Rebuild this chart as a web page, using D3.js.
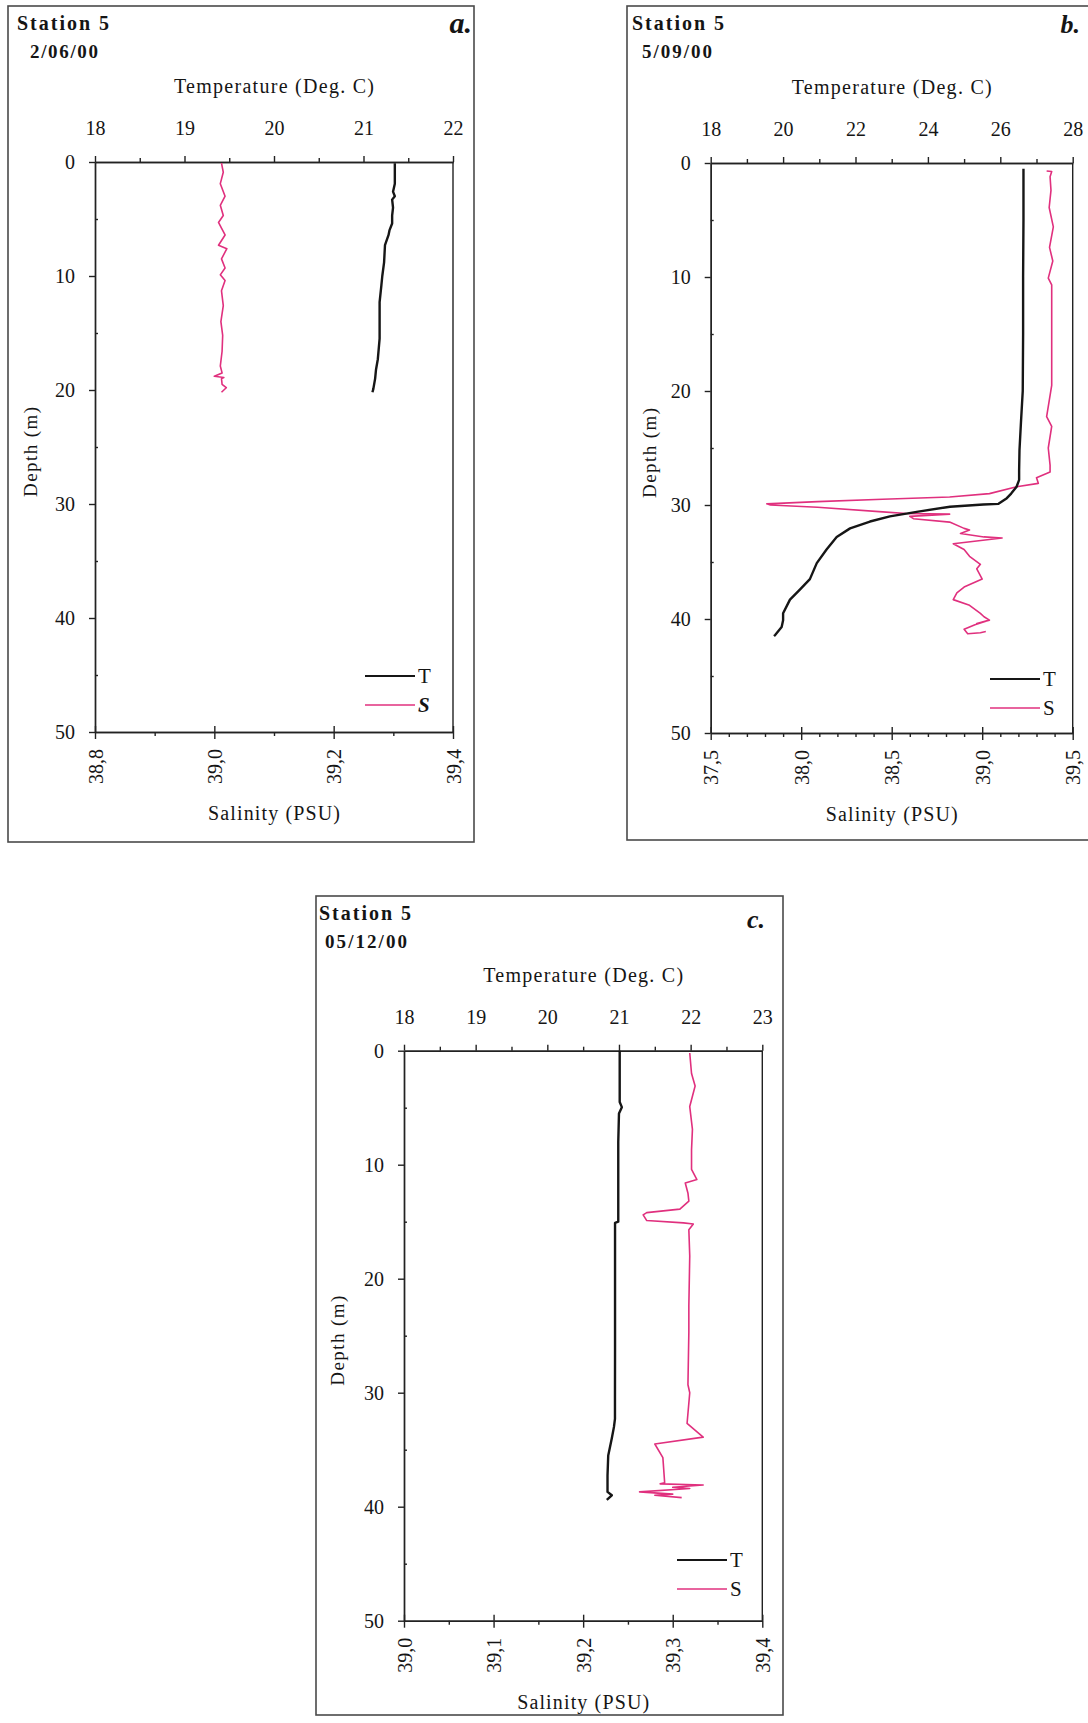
<!DOCTYPE html>
<html><head><meta charset="utf-8">
<script src="https://cdn.jsdelivr.net/npm/d3@7"></script>
<style>
body{margin:0;background:#fff}
svg{display:block}
text{font-family:"Liberation Serif","Times New Roman",Times,serif;fill:#151515}
</style>
</head><body>
<svg id="chart" width="1088" height="1723"></svg>
<script>
// ---------- shared axis values ----------
const depthTicks = [0, 10, 20, 30, 40, 50];
const depthMinor = [5, 15, 25, 35, 45];

// ---------- panel a : Station 5, 2/06/00 ----------
const tempTicksA = [18, 19, 20, 21, 22];
const tempMinorA = [18.5, 19.5, 20.5, 21.5];
const salTicksA = [38.8, 39.0, 39.2, 39.4];
const salMinorA = [38.9, 39.1, 39.3];
const depthA_T = [0.1, 1.0, 1.9, 2.6, 3.0, 3.3, 4.0, 4.7, 5.4, 6.0, 6.4, 7.3, 8.8, 10.0, 10.8, 12.3, 14.0, 15.5, 17.3, 18.2, 19.0, 19.9, 20.2];
const tempA = [21.35, 21.35, 21.35, 21.33, 21.35, 21.32, 21.33, 21.32, 21.32, 21.29, 21.28, 21.24, 21.23, 21.21, 21.20, 21.18, 21.18, 21.18, 21.16, 21.14, 21.13, 21.11, 21.10];
const depthA_S = [0.1, 0.9, 1.9, 3.0, 3.8, 4.7, 5.3, 5.8, 6.4, 7.3, 7.6, 8.5, 9.3, 9.9, 10.4, 11.3, 12.6, 14.0, 15.2, 16.6, 17.9, 18.5, 18.8, 18.9, 19.0, 19.5, 19.8, 20.2];
const salA = [39.012, 39.015, 39.010, 39.018, 39.010, 39.015, 39.007, 39.012, 39.018, 39.007, 39.021, 39.012, 39.018, 39.010, 39.018, 39.012, 39.015, 39.011, 39.014, 39.013, 39.010, 39.013, 39.000, 39.016, 39.012, 39.013, 39.020, 39.012];

// ---------- panel b : Station 5, 5/09/00 ----------
const tempTicksB = [18, 20, 22, 24, 26, 28];
const tempMinorB = [19, 21, 23, 25, 27];
const salTicksB = [37.5, 38.0, 38.5, 39.0, 39.5];
const salMinorB = [37.6, 37.7, 37.8, 37.9, 38.1, 38.2, 38.3, 38.4, 38.6, 38.7, 38.8, 38.9, 39.1, 39.2, 39.3, 39.4];
const depthB_T = [0.5, 5, 10, 15, 20, 22.8, 25.2, 27.0, 27.8, 28.4, 29.0, 29.4, 29.9, 29.95, 30.15, 30.6, 31.0, 31.45, 32.05, 32.8, 33.9, 35.1, 36.5, 37.4, 38.3, 39.5, 40.1, 40.7, 41.4, 41.5];
const tempB = [26.64, 26.64, 26.63, 26.63, 26.62, 26.57, 26.53, 26.52, 26.52, 26.45, 26.30, 26.18, 25.95, 25.53, 24.61, 23.69, 22.95, 22.40, 21.85, 21.48, 21.20, 20.93, 20.74, 20.47, 20.19, 20.00, 20.00, 19.96, 19.78, 19.75];
const depthB_S = [0.7, 0.75, 1.2, 2.4, 3.9, 5.6, 7.4, 8.6, 10.1, 10.7, 15.0, 19.5, 22.25, 23.1, 25.0, 26.5, 27.1, 27.6, 28.1, 28.4, 29.0, 29.3, 29.5, 29.7, 29.9, 30.0, 30.2, 30.6, 30.75, 30.8, 31.0, 31.2, 31.5, 32.05, 32.2, 32.5, 32.8, 32.9, 33.4, 33.9, 34.5, 35.2, 35.6, 36.5, 37.2, 37.7, 38.3, 38.8, 39.5, 39.8, 40.1, 40.4, 40.2, 40.5, 40.9, 41.3, 41.2, 41.1];
const salB = [39.356, 39.384, 39.375, 39.380, 39.370, 39.393, 39.372, 39.390, 39.365, 39.384, 39.384, 39.384, 39.356, 39.384, 39.365, 39.375, 39.375, 39.300, 39.310, 39.190, 39.040, 38.820, 38.450, 38.090, 37.810, 37.830, 38.090, 38.450, 38.580, 38.820, 38.600, 38.620, 38.820, 38.900, 38.930, 38.880, 39.010, 39.110, 38.840, 38.900, 38.930, 38.990, 38.970, 39.000, 38.900, 38.860, 38.840, 38.930, 38.990, 39.010, 39.040, 38.970, 39.020, 38.960, 38.900, 38.920, 38.990, 39.020];

// ---------- panel c : Station 5, 05/12/00 ----------
const tempTicksC = [18, 19, 20, 21, 22, 23];
const tempMinorC = [18.5, 19.5, 20.5, 21.5, 22.5];
const salTicksC = [39.0, 39.1, 39.2, 39.3, 39.4];
const salMinorC = [39.05, 39.15, 39.25, 39.35];
const depthC_T = [0, 4.5, 4.95, 5.5, 8, 12, 15.0, 15.1, 18, 22, 26, 30.5, 32.3, 33.0, 34.0, 35.5, 37.25, 38.7, 39.0, 39.4];
const tempC = [21.01, 21.01, 21.04, 21.00, 20.99, 20.99, 20.99, 20.945, 20.945, 20.945, 20.945, 20.944, 20.944, 20.93, 20.90, 20.85, 20.84, 20.84, 20.90, 20.83];
const depthC_S = [0.2, 2.0, 3.1, 4.9, 6.9, 8.7, 10.4, 11.3, 11.6, 12.5, 13.2, 13.9, 14.2, 14.4, 14.9, 15.1, 15.2, 15.7, 18.0, 22.4, 24.7, 29.3, 30.0, 32.7, 33.9, 34.5, 35.7, 37.9, 38.0, 38.1, 38.3, 38.4, 38.7, 38.9, 39.0, 39.2];
const salC = [39.319, 39.321, 39.325, 39.319, 39.322, 39.321, 39.321, 39.327, 39.314, 39.317, 39.318, 39.308, 39.271, 39.267, 39.271, 39.312, 39.323, 39.318, 39.319, 39.318, 39.318, 39.317, 39.319, 39.316, 39.334, 39.280, 39.289, 39.291, 39.286, 39.334, 39.300, 39.319, 39.263, 39.300, 39.280, 39.310];

const titles = ["Station 5", "Station 5", "Station 5"];
const dates = ["2/06/00", "5/09/00", "05/12/00"];
const letters = ["a.", "b.", "c."];

// ---------- layout (positions only) ----------
const panels = [
  {box:[8,6,474,842], l:95, r:453, t:162, b:732,
   tempDomain:[18,22], salDomain:[38.8,39.4],
   tempTicks:tempTicksA, tempMinor:tempMinorA, salTicks:salTicksA, salMinor:salMinorA,
   T:{d:depthA_T, v:tempA}, S:{d:depthA_S, v:salA},
   title:titles[0], date:dates[0], letter:letters[0],
   titleX:17, dateX:30, titleY:30, dateY:58, dateW:68, letterX:472, letterY:33, letterSize:30,
   depthTitleX:30, legX:365, legY:676, legSItalic:true},
  {box:[627,6,1096,840], l:710.7, r:1072.7, t:163, b:733,
   tempDomain:[18,28], salDomain:[37.5,39.5],
   tempTicks:tempTicksB, tempMinor:tempMinorB, salTicks:salTicksB, salMinor:salMinorB,
   T:{d:depthB_T, v:tempB}, S:{d:depthB_S, v:salB},
   title:titles[1], date:dates[1], letter:letters[1],
   titleX:632, dateX:642, titleY:30, dateY:58, dateW:70, letterX:1080, letterY:33, letterSize:26,
   depthTitleX:649, legX:990, legY:679, legSItalic:false},
  {box:[316,896,783,1715], l:404, r:762.3, t:1050.7, b:1620.7,
   tempDomain:[18,23], salDomain:[39.0,39.4],
   tempTicks:tempTicksC, tempMinor:tempMinorC, salTicks:salTicksC, salMinor:salMinorC,
   T:{d:depthC_T, v:tempC}, S:{d:depthC_S, v:salC},
   title:titles[2], date:dates[2], letter:letters[2],
   titleX:319, dateX:325, titleY:920, dateY:948, dateW:82, letterX:765, letterY:928, letterSize:26,
   depthTitleX:337, legX:677, legY:1560, legSItalic:false}
];

const svg = d3.select("#chart");
const TCOL = "#161616", SCOL = "#e0307e";

function styleAxis(g){
  g.attr("font-size", null).attr("font-family", null).attr("color", "#222");
  g.selectAll("path,line").attr("stroke-width", 1.4);
  g.selectAll("text").attr("font-size", 20);
}

panels.forEach(p => {
  const g = svg.append("g");
  const [bx0, by0, bx1, by1] = p.box;
  g.append("rect").attr("x", bx0).attr("y", by0).attr("width", bx1 - bx0).attr("height", by1 - by0)
    .attr("fill", "none").attr("stroke", "#4a4a4a").attr("stroke-width", 1.6);

  const x = d3.scaleLinear().domain(p.tempDomain).range([p.l, p.r]);
  const xs = d3.scaleLinear().domain(p.salDomain).range([p.l, p.r]);
  const y = d3.scaleLinear().domain([0, 50]).range([p.t, p.b]);

  // right frame
  g.append("line").attr("x1", p.r).attr("x2", p.r).attr("y1", p.t).attr("y2", p.b)
    .attr("stroke", "#222").attr("stroke-width", 1.4);

  // top temperature axis
  g.append("g").attr("transform", `translate(0,${p.t})`)
    .call(d3.axisTop(x).tickValues(p.tempTicks).tickSize(6).tickSizeOuter(0).tickPadding(21).tickFormat(d3.format("d")))
    .call(styleAxis);
  g.append("g").attr("transform", `translate(0,${p.t})`)
    .call(d3.axisTop(x).tickValues(p.tempMinor).tickSize(4).tickSizeOuter(0).tickFormat(""))
    .call(styleAxis);

  // left depth axis
  g.append("g").attr("transform", `translate(${p.l},0)`)
    .call(d3.axisLeft(y).tickValues(depthTicks).tickSize(6).tickSizeOuter(0).tickPadding(14).tickFormat(d3.format("d")))
    .call(styleAxis);
  g.append("g").attr("transform", `translate(${p.l},0)`)
    .call(d3.axisLeft(y).tickValues(depthMinor).tickSize(-3).tickSizeOuter(0).tickFormat(""))
    .call(styleAxis);

  // bottom salinity axis
  const fmt = v => d3.format(".1f")(v).replace(".", ",");
  const bax = g.append("g").attr("transform", `translate(0,${p.b})`)
    .call(d3.axisBottom(xs).tickValues(p.salTicks).tickSize(7).tickSizeOuter(0).tickFormat(fmt))
    .call(styleAxis);
  bax.selectAll(".tick text")
    .attr("x", 0).attr("y", 0).attr("dy", "0.35em")
    .attr("text-anchor", "end")
    .attr("transform", "translate(0,17) rotate(-90)");
  bax.selectAll(".tick").append("line").attr("y1", 0).attr("y2", -6)
    .attr("stroke", "#222").attr("stroke-width", 1.4);
  g.append("g").attr("transform", `translate(0,${p.b})`)
    .call(d3.axisBottom(xs).tickValues(p.salMinor).tickSize(4).tickSizeOuter(0).tickFormat(""))
    .call(styleAxis);

  // axis titles
  const cx = (p.l + p.r) / 2;
  g.append("text").attr("x", cx).attr("y", p.t - 69).attr("text-anchor", "middle")
    .attr("font-size", 20).attr("textLength", 200).attr("lengthAdjust", "spacing")
    .text("Temperature (Deg. C)");
  g.append("text").attr("x", cx).attr("y", p.b + 88).attr("text-anchor", "middle")
    .attr("font-size", 20).attr("textLength", 132).attr("lengthAdjust", "spacing")
    .text("Salinity (PSU)");
  g.append("text").attr("transform", `translate(${p.depthTitleX},${(p.t + p.b) / 2 + 5}) rotate(-90)`)
    .attr("text-anchor", "middle").attr("dy", "0.35em")
    .attr("font-size", 19).attr("textLength", 90).attr("lengthAdjust", "spacing")
    .text("Depth (m)");

  // headings
  g.append("text").attr("x", p.titleX).attr("y", p.titleY).attr("font-size", 20).attr("font-weight", "bold")
    .attr("textLength", 92).attr("lengthAdjust", "spacing").text(p.title);
  g.append("text").attr("x", p.dateX).attr("y", p.dateY).attr("font-size", 19).attr("font-weight", "bold")
    .attr("textLength", p.dateW).attr("lengthAdjust", "spacing").text(p.date);
  g.append("text").attr("x", p.letterX).attr("y", p.letterY).attr("text-anchor", "end")
    .attr("font-size", p.letterSize).attr("font-weight", "bold").attr("font-style", "italic").text(p.letter);

  // profiles
  const lineT = d3.line().x((d, i) => x(p.T.v[i])).y(d => y(d));
  const lineS = d3.line().x((d, i) => xs(p.S.v[i])).y(d => y(d));
  g.append("path").attr("d", lineS(p.S.d)).attr("fill", "none").attr("stroke", SCOL)
    .attr("stroke-width", 1.6).attr("stroke-linejoin", "round");
  g.append("path").attr("d", lineT(p.T.d)).attr("fill", "none").attr("stroke", TCOL)
    .attr("stroke-width", 2.4).attr("stroke-linejoin", "round");

  // legend
  const legItems = [{k:"T", c:TCOL, w:2}, {k:"S", c:SCOL, w:1.6}];
  legItems.forEach((it, i) => {
    const ly = p.legY + i * 29;
    g.append("line").attr("x1", p.legX).attr("x2", p.legX + 50).attr("y1", ly).attr("y2", ly)
      .attr("stroke", it.c).attr("stroke-width", it.w);
    const t = g.append("text").attr("x", p.legX + 53).attr("y", ly + 7).attr("font-size", 21).text(it.k);
    if (it.k === "S" && p.legSItalic) t.attr("font-style", "italic").attr("font-weight", "bold");
  });
});
</script>
</body></html>
